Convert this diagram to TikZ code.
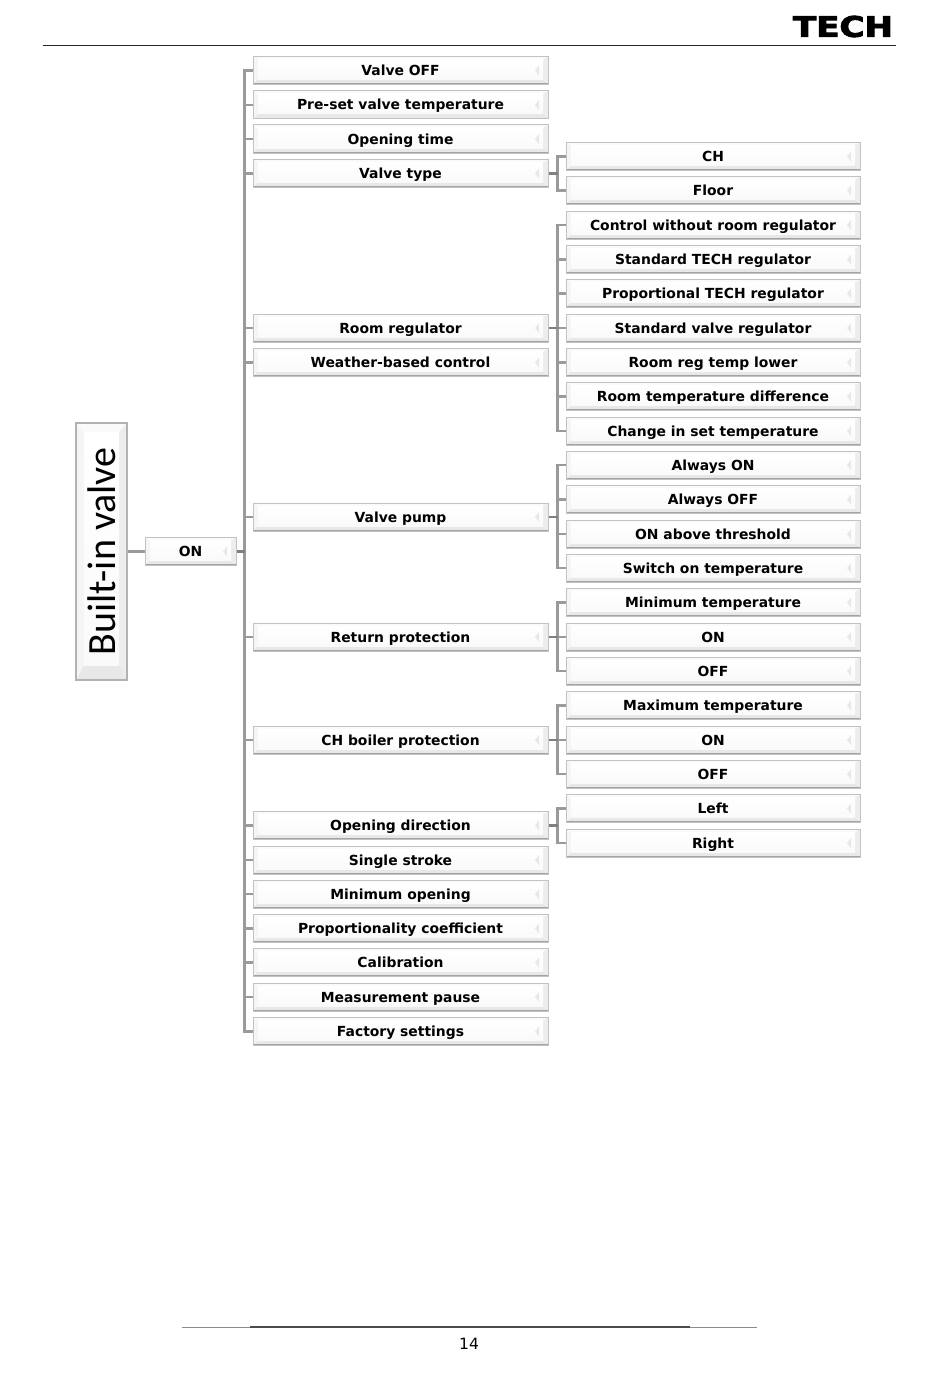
\documentclass[tikz,border=0pt]{standalone}
\usepackage{fontspec}
\usepackage{graphicx}
\setmainfont{DejaVu Sans}
\newfontfamily\calib{Carlito}
\newfontfamily\logof[FakeBold=3]{DejaVu Sans Bold}
\usetikzlibrary{calc}
\definecolor{lnc}{HTML}{9A9A9A}
\definecolor{stubc}{HTML}{808080}
\newcommand\bevelfill[5]{%
 \path (path picture bounding box.south west) coordinate (oa) ++(#1pt,#4pt) coordinate (ia);
 \path (path picture bounding box.north east) coordinate (oc) ++(-#3pt,-#2pt) coordinate (ic);
 \path (oa|-oc) coordinate (ob) (oc|-oa) coordinate (od) (ia|-ic) coordinate (ib) (ic|-ia) coordinate (id);
 \fill[white] (oa) rectangle (oc);
 \fill[black!4] (oa) -- (ob) -- (ib) -- (ia) -- cycle;
 \fill[black!2] (ob) -- (oc) -- (ic) -- (ib) -- cycle;
 \fill[black!7] (oc) -- (od) -- (id) -- (ic) -- cycle;
 \fill[black!9] (oa) -- (od) -- (id) -- (ia) -- cycle;
 \shade[top color=white,bottom color=black!2] (ia) rectangle (ic);
 \draw[black!36,line width=1pt] ($(oa)+(0,.9pt)$) -- ($(od)+(0,.9pt)$);
 #5
}
\newcommand\tick{\fill[black!9] ($(path picture bounding box.east)+(-9pt,-5pt)$) -- ($(path picture bounding box.east)+(-9pt,5pt)$) -- ($(path picture bounding box.east)+(-13pt,0pt)$) -- cycle;}
\tikzset{
 x=1pt,y=-1pt,
 boxbase/.style={draw=black!24,line width=1pt,inner sep=0pt,text height=12pt,text depth=2pt,font=\bfseries\fontsize{13.9}{16}\selectfont,text=black},
 lbox/.style={boxbase,minimum width=295pt,minimum height=28pt,path picture={\bevelfill{5}{3}{5}{5}{\tick}}},
 rbox/.style={boxbase,minimum width=294pt,minimum height=28pt,path picture={\bevelfill{5}{3}{5}{5}{\tick}}},
 onbox/.style={boxbase,minimum width=91pt,minimum height=28pt,path picture={\bevelfill{5}{3}{5}{5}{\tick}}},
 rootbox/.style={draw=black!30,line width=1.2pt,inner sep=0pt,minimum width=51pt,minimum height=257pt,font=\calib\fontsize{40}{44}\selectfont,path picture={\bevelfill{8}{9}{8}{15}{}}},
 conn/.style={draw=lnc,line width=2.2pt},
 trunkline/.style={draw=lnc,line width=2.8pt},
 stub/.style={draw=stubc,line width=2.2pt},
}
\begin{document}
\begin{tikzpicture}
\useasboundingbox (0,0) rectangle (950,1378);
% header and footer
\coordinate (hl) at (43,45.5); \coordinate (hr) at (896,45.5);
\draw[black!85,line width=.9pt] (hl) -- (hr);
\node[inner sep=0pt,anchor=center] (logo) at (843,26.5) {\resizebox{100pt}{21pt}{\logof TECH}};
\coordinate (fl) at (182,1327); \coordinate (fr) at (757,1327);
\coordinate (fml) at (250,1327); \coordinate (fmr) at (690,1327);
\draw[black!45,line width=.7pt] (fl) -- (fr);
\draw[black!70,line width=1.2pt] (fml) -- (fmr);
\node[inner sep=0pt,font=\fontsize{15.5}{17}\selectfont] (pg) at (469,1344) {14};
% root
\node[rootbox] (root) at (101.5,551.5) {\rotatebox{90}{Built-in valve}\hspace{6pt}};
\node[onbox] (on) at (190.5,551.5) {ON};
% left column
\foreach \n/\y/\t in {
 a1/70.5/Valve OFF,a2/105/Pre-set valve temperature,a3/139/Opening time,a4/173.5/Valve type,
 a5/328/Room regulator,a6/362.5/Weather-based control,a7/517/Valve pump,a8/637/Return protection,
 a9/740/CH boiler protection,a10/825.5/Opening direction,a11/860/Single stroke,a12/894/Minimum opening,
 a13/928.5/Proportionality coefficient,a14/962.5/Calibration,a15/997/Measurement pause,a16/1031.5/Factory settings}
 \node[lbox] (\n) at (400.5,\y) {\t};
% right column
\foreach \n/\y/\t in {
 b1/156.5/CH,b2/190.5/Floor,
 c1/225/Control without room regulator,c2/259.5/Standard TECH regulator,c3/293.5/Proportional TECH regulator,
 c4/328/Standard valve regulator,c5/362.5/Room reg temp lower,c6/396.5/Room temperature difference,c7/431/Change in set temperature,
 d1/465/Always ON,d2/499.5/Always OFF,d3/534/ON above threshold,d4/568/Switch on temperature,
 e1/602.5/Minimum temperature,e2/637/ON,e3/671/OFF,
 f1/705.5/Maximum temperature,f2/740/ON,f3/774/OFF,
 g1/808.5/Left,g2/843/Right}
 \node[rbox] (\n) at (713,\y) {\t};
% connectors
\draw[conn] (root.east) -- (on.west);
\coordinate (tr) at ($(on.east)+(8,0)$);
\foreach \n in {a1,a2,a3,a4,a5,a6,a7,a8,a9,a10,a11,a12,a13,a14,a15,a16}
  \draw[conn] (tr) |- (\n.west);
\draw[trunkline] (tr|-a1.west) -- (tr|-a16.west);
\draw[stub] (on.east) -- (tr);
\foreach \s/\kids in {a4/{b1,b2},a5/{c1,c2,c3,c4,c5,c6,c7},a7/{d1,d2,d3,d4},a8/{e1,e2,e3},a9/{f1,f2,f3},a10/{g1,g2}}{
  \coordinate (j) at ($(\s.east)+(9,0)$);
  \foreach \k in \kids \draw[conn] (j) |- (\k.west);
  \draw[stub] (\s.east) -- (j);
}
\end{tikzpicture}
\end{document}
